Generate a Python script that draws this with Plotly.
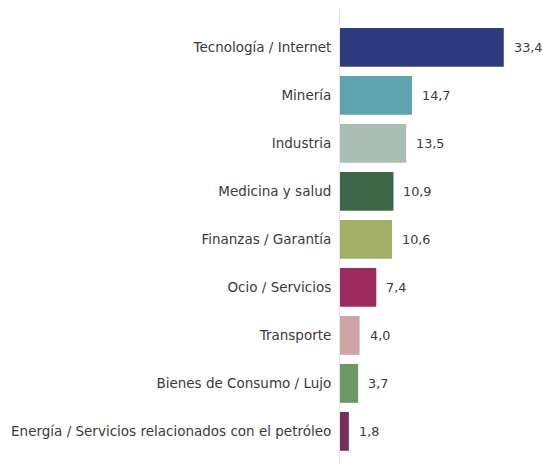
import plotly.graph_objects as go

categories = [
    "Tecnología / Internet",
    "Minería",
    "Industria",
    "Medicina y salud",
    "Finanzas / Garantía",
    "Ocio / Servicios",
    "Transporte",
    "Bienes de Consumo / Lujo",
    "Energía / Servicios relacionados con el petróleo",
]
values = [33.4, 14.7, 13.5, 10.9, 10.6, 7.4, 4.0, 3.7, 1.8]
colors = ["#2E3B7E", "#5FA3AE", "#AABEB5", "#3E6649", "#A3AE67",
          "#9C2B5E", "#CFA4A6", "#6A9966", "#772E5A"]

FONT = "DejaVu Sans"
TEXT = "#3A3A3A"

fig = go.Figure(go.Bar(
    x=values,
    y=categories,
    orientation="h",
    marker=dict(color=colors, line=dict(width=0)),
    width=0.81,
    hoverinfo="skip",
))

for c, v in zip(categories, values):
    fig.add_annotation(
        x=v, y=c, xref="x", yref="y",
        text=f"{v:.1f}".replace(".", ","),
        showarrow=False, xanchor="left", yanchor="middle",
        xshift=9, borderpad=0,
        font=dict(family=FONT, size=12.8, color=TEXT),
    )

fig.update_layout(
    width=543, height=464,
    margin=dict(l=340, r=0, t=10, b=0),
    paper_bgcolor="white", plot_bgcolor="white",
    showlegend=False,
    font=dict(family=FONT, size=13.5, color=TEXT),
    xaxis=dict(range=[0, 41.4], visible=False, fixedrange=True),
    yaxis=dict(
        categoryorder="array", categoryarray=categories,
        range=[8.68, -0.78],
        showline=True, linecolor="#E6E6E6", linewidth=1,
        showgrid=False, ticks="", ticklabelstandoff=5,
        tickfont=dict(family=FONT, size=13.5, color=TEXT),
        fixedrange=True,
    ),
)

# remove the default 8px page margin so the figure fills the window exactly
fig.write_html(
    "out.html",
    config={"displayModeBar": False},
    post_script="document.body.style.margin='0';document.body.style.overflow='hidden';",
)
